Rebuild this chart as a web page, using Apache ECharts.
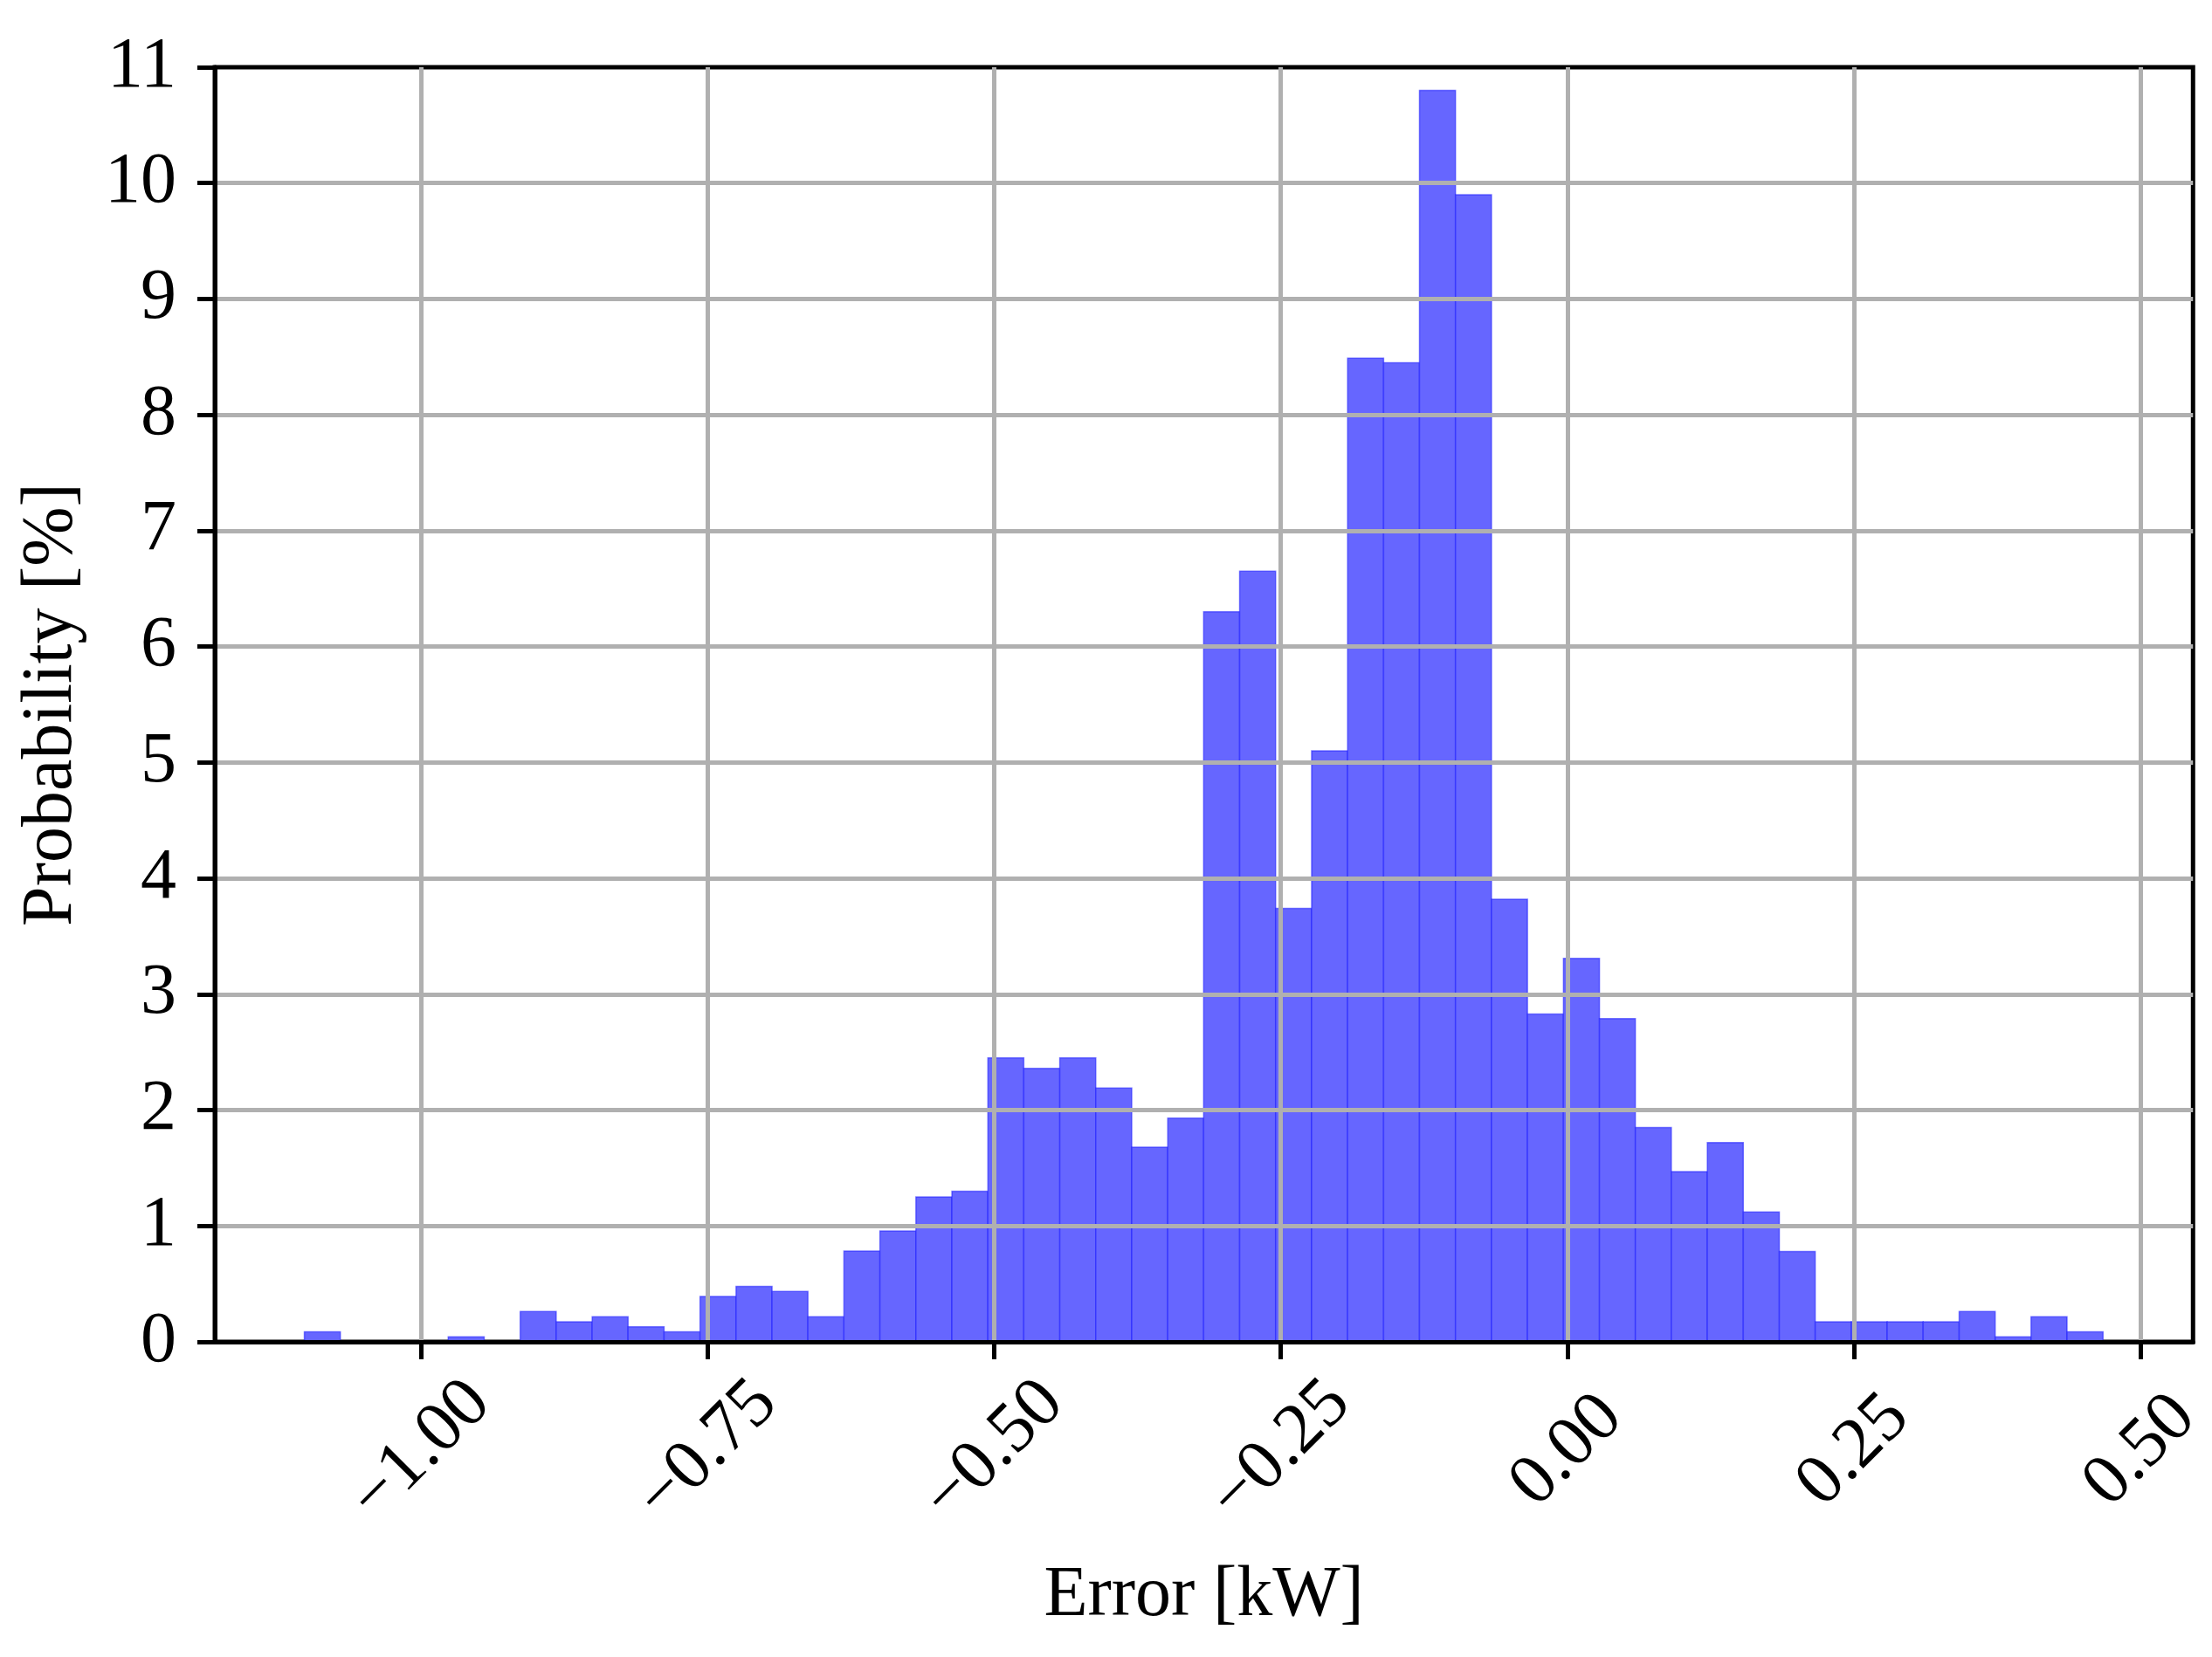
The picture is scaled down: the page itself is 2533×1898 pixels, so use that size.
<!DOCTYPE html>
<html>
<head>
<meta charset="UTF-8">
<title>error_histogram</title>
<script src="https://cdn.jsdelivr.net/npm/echarts@6/dist/echarts.min.js"></script>
<style>
  html, body { margin: 0; padding: 0; background: #fff; }
  #main { width: 2533px; height: 1898px; }
</style>
</head>
<body>
<div id="main"></div>
<script>
// bin edges of the histogram (kW), 50 bins
var binEdges = [-1.1018, -1.0704, -1.0390, -1.0077, -0.9763, -0.9449, -0.9135, -0.8821, -0.8507, -0.8194,
  -0.7880, -0.7566, -0.7252, -0.6938, -0.6625, -0.6311, -0.5997, -0.5683, -0.5369, -0.5055,
  -0.4742, -0.4428, -0.4114, -0.3800, -0.3486, -0.3173, -0.2859, -0.2545, -0.2231, -0.1917,
  -0.1603, -0.1290, -0.0976, -0.0662, -0.0348, -0.0034, 0.0280, 0.0593, 0.0907, 0.1221,
  0.1535, 0.1849, 0.2162, 0.2476, 0.2790, 0.3104, 0.3418, 0.3732, 0.4045, 0.4359, 0.4673];

// probability of each bin [%]
var probs = [0.087, 0, 0, 0, 0.043, 0, 0.261, 0.174, 0.217, 0.130,
  0.087, 0.391, 0.478, 0.435, 0.217, 0.783, 0.957, 1.25, 1.30, 2.45,
  2.36, 2.45, 2.19, 1.68, 1.93, 6.30, 6.65, 3.74, 5.10, 8.49,
  8.45, 10.80, 9.90, 3.82, 2.83, 3.31, 2.79, 1.85, 1.47, 1.72,
  1.12, 0.78, 0.174, 0.174, 0.174, 0.174, 0.261, 0.043, 0.217, 0.087];

var xTicks = [-1.00, -0.75, -0.50, -0.25, 0.00, 0.25, 0.50];

var barData = [];
for (var i = 0; i < probs.length; i++) {
  barData.push([binEdges[i], binEdges[i + 1], probs[i]]);
}

var font = 'Liberation Serif';
var fs = 82;
var myChart = echarts.init(document.getElementById('main'));

var option = {
  backgroundColor: '#fff',
  animation: false,
  grid: {
    left: 246, right: 17, top: 77, bottom: 361,
    show: true, borderColor: '#000', borderWidth: 5
  },
  xAxis: {
    type: 'value',
    min: -1.1799,
    max: 0.5458,
    minInterval: 0.25,
    maxInterval: 0.25,
    z: 3,
    name: 'Error [kW]',
    nameLocation: 'middle',
    nameGap: 250,
    nameTextStyle: { fontFamily: font, fontSize: fs, color: '#000' },
    axisLine: { onZero: false, lineStyle: { color: '#000', width: 5 } },
    axisTick: { customValues: xTicks, length: 20, lineStyle: { color: '#000', width: 5 } },
    axisLabel: {
      customValues: xTicks,
      rotate: 45, align: 'center', verticalAlign: 'middle', margin: 125,
      fontFamily: font, fontSize: fs, color: '#000',
      formatter: function (v) {
        if (Math.abs(v) < 1e-9) return '0.00';
        return v.toFixed(2).replace('-', '\u2212');
      }
    },
    splitLine: { show: true, lineStyle: { color: '#b0b0b0', width: 5 } }
  },
  yAxis: {
    type: 'value',
    min: 0, max: 11, interval: 1,
    z: 3,
    name: 'Probability [%]',
    nameLocation: 'middle',
    nameRotate: 90,
    nameGap: 146,
    nameTextStyle: { fontFamily: font, fontSize: fs, color: '#000' },
    axisLine: { show: true, onZero: false, lineStyle: { color: '#000', width: 5 } },
    axisTick: { show: true, length: 20, lineStyle: { color: '#000', width: 5 } },
    axisLabel: { margin: 44, fontFamily: font, fontSize: fs, color: '#000' },
    splitLine: { show: true, showMinLine: false, showMaxLine: false,
      lineStyle: { color: '#b0b0b0', width: 5 } }
  },
  series: [{
    type: 'custom',
    z: 2,
    renderItem: function (params, api) {
      var p0 = api.coord([api.value(0), api.value(2)]);
      var p1 = api.coord([api.value(1), 0]);
      return {
        type: 'rect',
        shape: { x: p0[0], y: p0[1], width: p1[0] - p0[0], height: p1[1] - p0[1] },
        style: { fill: '#6666ff', stroke: 'rgba(30,30,255,0.55)', lineWidth: 1.5 }
      };
    },
    encode: { x: [0, 1], y: 2 },
    data: barData
  }]
};
myChart.setOption(option);
</script>
</body>
</html>
